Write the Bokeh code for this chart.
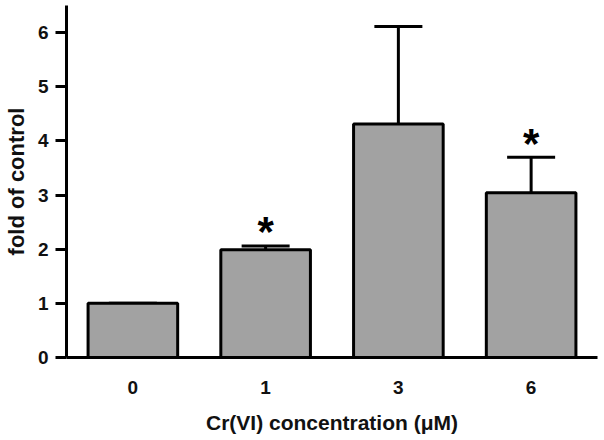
from bokeh.plotting import figure
from bokeh.models import FactorRange, Range1d, ColumnDataSource, Whisker, TeeHead, FixedTicker
from bokeh.core.properties import value
from bokeh.embed import file_html
from bokeh.resources import INLINE

categories = ["0", "1", "3", "6"]
fold = [1.0, 1.99, 4.31, 3.04]
err_upper = [1.0, 2.06, 6.11, 3.70]
stars = ["", "*", "", "*"]

FONT = "Liberation Sans"

src = ColumnDataSource(dict(cat=categories, fold=fold, upper=err_upper, star=stars))

p = figure(width=600, height=436, x_range=FactorRange(factors=categories, range_padding=0),
           y_range=Range1d(0, 6.5), output_backend="svg", toolbar_location=None,
           min_border_left=65, min_border_right=3, min_border_top=5, min_border_bottom=78)
p.outline_line_color = None
p.grid.grid_line_color = None
p.background_fill_color = "white"

p.vbar(x="cat", top="fold", width=0.675, source=src, fill_color="#a2a2a2",
       line_color="black", line_width=3)

w = Whisker(base="cat", lower="fold", upper="upper", source=src, line_width=3, line_color="black",
            upper_head=TeeHead(size=48, line_width=3, line_color="black"), lower_head=None)
p.add_layout(w)

p.text(x="cat", y="upper", text="star", source=src, text_font=value(FONT), text_font_style="bold",
       text_font_size="42px", text_align="center", text_baseline="alphabetic", y_offset=-14,
       text_color="black")

p.yaxis.ticker = FixedTicker(ticks=[0, 1, 2, 3, 4, 5, 6])
p.yaxis.axis_line_width = 3
p.yaxis.major_tick_line_width = 3
p.yaxis.major_tick_out = 11
p.yaxis.major_tick_in = 0
p.yaxis.minor_tick_line_color = None
p.yaxis.major_label_text_font = FONT
p.yaxis.major_label_text_font_style = "bold"
p.yaxis.major_label_text_font_size = "19px"
p.yaxis.major_label_text_color = "#111111"
p.yaxis.major_label_standoff = 7
p.yaxis.axis_label = "fold of control"
p.yaxis.axis_label_text_font = FONT
p.yaxis.axis_label_text_font_style = "bold"
p.yaxis.axis_label_text_font_size = "22px"
p.yaxis.axis_label_text_color = "#111111"
p.yaxis.axis_label_standoff = 6

p.xaxis.axis_line_width = 3
p.xaxis.major_tick_line_color = None
p.xaxis.minor_tick_line_color = None
p.xaxis.major_label_text_font = FONT
p.xaxis.major_label_text_font_style = "bold"
p.xaxis.major_label_text_font_size = "19px"
p.xaxis.major_label_text_color = "#111111"
p.xaxis.major_label_standoff = 17
p.xaxis.axis_label = "Cr(VI) concentration (μM)"
p.xaxis.axis_label_text_font = FONT
p.xaxis.axis_label_text_font_style = "bold"
p.xaxis.axis_label_text_font_size = "21px"
p.xaxis.axis_label_text_color = "#111111"
p.xaxis.axis_label_standoff = 14

open("out.html", "w").write(file_html(p, INLINE))
